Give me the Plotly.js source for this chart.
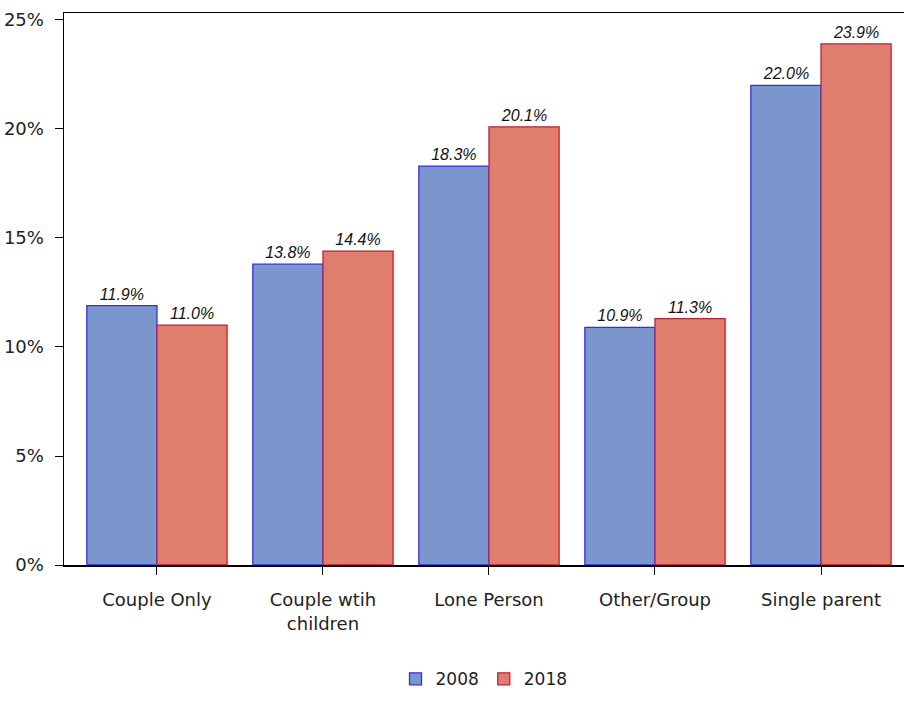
<!DOCTYPE html>
<html>
<head>
<meta charset="utf-8">
<script src="https://cdn.plot.ly/plotly-3.0.1.min.js"></script>
<style>
  body { margin: 0; background: #fff; }
  #chart { width: 904px; height: 716px; }
</style>
</head>
<body>
<div id="chart"></div>
<script>
// household types along the x axis
const categories = ['Couple Only', 'Couple wtih<br>children', 'Lone Person', 'Other/Group', 'Single parent'];
// share of households, in percent
const values2008 = [11.9, 13.8, 18.3, 10.9, 22.0];
const values2018 = [11.0, 14.4, 20.1, 11.3, 23.9];
const yTickVals = [0, 5, 10, 15, 20, 25];
const yTickText = ['0%', '5%', '10%', '15%', '20%', '25%'];

const axisFont = { family: 'DejaVu Sans, sans-serif', size: 18, color: '#222' };
const legendFont = { family: 'DejaVu Sans, sans-serif', size: 17, color: '#222' };
const labelFont = { family: 'Liberation Sans, Arial, sans-serif', size: 16, color: '#111', style: 'italic' };

function makeBar(name, vals, fill, edge) {
  return {
    type: 'bar',
    name: name,
    x: categories,
    y: vals,
    marker: { color: fill, line: { color: edge, width: 1.3 } },
    text: vals.map(v => v.toFixed(1) + '%'),
    textposition: 'outside',
    textfont: labelFont,
    cliponaxis: false,
    hoverinfo: 'skip'
  };
}

const data = [
  makeBar('2008', values2008, '#7b96cc', '#3030e0'),
  makeBar('2018', values2018, '#e07e6e', '#c0203a')
];

const layout = {
  width: 904,
  height: 716,
  margin: { l: 64, r: 0, t: 13, b: 151 },
  paper_bgcolor: '#fff',
  plot_bgcolor: '#fff',
  barmode: 'group',
  bargap: 0.155,
  bargroupgap: 0,
  showlegend: true,
  font: axisFont,
  xaxis: {
    range: [-0.56, 4.5],
    showline: true,
    linecolor: '#000',
    linewidth: 1.5,
    mirror: true,
    ticks: 'outside',
    ticklen: 8,
    tickcolor: '#000',
    tickfont: axisFont,
    ticklabelstandoff: 10,
    showgrid: false,
    zeroline: false
  },
  yaxis: {
    range: [0, 25.32],
    tickvals: yTickVals,
    ticktext: yTickText,
    showline: true,
    linecolor: '#000',
    linewidth: 1.5,
    ticks: 'outside',
    ticklen: 8,
    tickcolor: '#000',
    tickfont: axisFont,
    ticklabelstandoff: 7,
    showgrid: false,
    zeroline: false
  },
  legend: {
    orientation: 'h',
    x: 0.5,
    xanchor: 'center',
    y: -0.207,
    yanchor: 'middle',
    font: legendFont,
    itemwidth: 30
  }
};

Plotly.newPlot('chart', data, layout, { displayModeBar: false, staticPlot: true });
</script>
</body>
</html>
